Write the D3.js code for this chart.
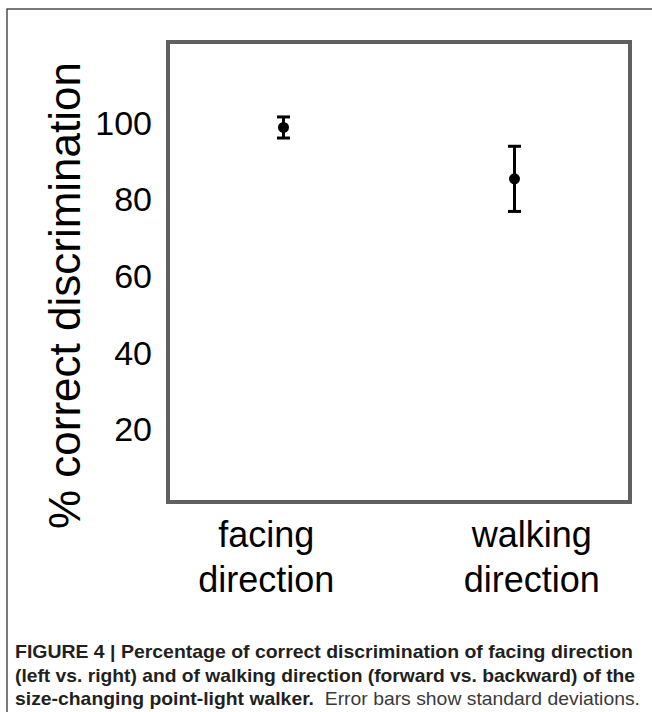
<!DOCTYPE html>
<html>
<head>
    <meta charset="utf-8">
    <script src="https://d3js.org/d3.v7.min.js"></script>
    <style>
        body { margin: 0; background: #fff; }
        text { font-family: 'Liberation Sans', Arial, Helvetica, sans-serif; }
        .caption { fill: #231f20; font-size: 18.5px; }
    </style>
</head>
<body>
<div id="chart"></div>
<script>

    // data
    var categories = ["facing direction", "walking direction"];
    var means = [98.7, 85.3];
    var sds = [2.75, 8.5];
    var yTicks = [20, 40, 60, 80, 100];
    var yTitle = "% correct discrimination";
    var captionLines = [
        [{t: "FIGURE 4 | Percentage of correct discrimination of facing direction", b: true}],
        [{t: "(left vs. right) and of walking direction (forward vs. backward) of the", b: true}],
        [{t: "size-changing point-light walker.", b: true},
         {t: "  Error bars show standard deviations.", b: false}]
    ];
    var captionWidths = [618, 620, 625];

    var width = 652, height = 712;
    var box = {left: 168, top: 42, right: 630, bottom: 502};

    var svg = d3.select("#chart").append("svg")
        .attr("width", width)
        .attr("height", height);

    // outer frame of the figure panel
    svg.append("rect")
        .attr("x", 7).attr("y", 9)
        .attr("width", 700).attr("height", 800)
        .attr("fill", "none")
        .attr("stroke", "#333")
        .attr("stroke-width", 1.3);

    var x = d3.scalePoint()
        .domain(categories)
        .range([box.left, box.right])
        .padding(0.5);

    // category labels sit a bit further out than the points
    var xLab = d3.scalePoint()
        .domain(categories)
        .range([box.left, box.right])
        .padding(0.37);

    var y = d3.scaleLinear()
        .domain([1, 121])
        .range([box.bottom, box.top]);

    var rows = categories.map(function(c, i) {
        return {cat: c, mean: means[i], sd: sds[i]};
    });

    // plot box
    svg.append("rect")
        .attr("x", box.left).attr("y", box.top)
        .attr("width", box.right - box.left)
        .attr("height", box.bottom - box.top)
        .attr("fill", "none")
        .attr("stroke", "#606060")
        .attr("stroke-width", 4);

    // y tick labels
    svg.append("g")
        .selectAll("text")
        .data(yTicks)
        .join("text")
        .attr("x", 152)
        .attr("y", function(d) { return y(d); })
        .attr("dy", "0.36em")
        .attr("text-anchor", "end")
        .attr("font-size", 34)
        .attr("fill", "#000")
        .text(function(d) { return d; });

    // y title
    svg.append("text")
        .attr("transform", "translate(80," + 62 + ") rotate(-90)")
        .attr("text-anchor", "end")
        .attr("font-size", 44)
        .attr("fill", "#000")
        .text(yTitle);

    // x category labels, two lines each
    var xl = svg.append("g")
        .selectAll("text")
        .data(categories)
        .join("text")
        .attr("text-anchor", "middle")
        .attr("font-size", 36)
        .attr("fill", "#000");
    xl.selectAll("tspan")
        .data(function(d) { return d.split(" ").map(function(w) { return {w: w, c: d}; }); })
        .join("tspan")
        .attr("x", function(d) { return xLab(d.c); })
        .attr("y", function(d, i) { return 547 + i * 45; })
        .text(function(d) { return d.w; });

    // error bars
    var eb = svg.append("g")
        .attr("stroke", "#000")
        .attr("stroke-width", 3);
    eb.selectAll("line.v")
        .data(rows)
        .join("line")
        .attr("class", "v")
        .attr("x1", function(d) { return x(d.cat); })
        .attr("x2", function(d) { return x(d.cat); })
        .attr("y1", function(d) { return y(d.mean + d.sd); })
        .attr("y2", function(d) { return y(d.mean - d.sd); });
    [1, -1].forEach(function(s) {
        eb.selectAll("line.cap" + (s > 0 ? "t" : "b"))
            .data(rows)
            .join("line")
            .attr("class", "cap" + (s > 0 ? "t" : "b"))
            .attr("x1", function(d) { return x(d.cat) - 6.5; })
            .attr("x2", function(d) { return x(d.cat) + 6.5; })
            .attr("y1", function(d) { return y(d.mean + s * d.sd); })
            .attr("y2", function(d) { return y(d.mean + s * d.sd); });
    });

    svg.append("g")
        .selectAll("circle")
        .data(rows)
        .join("circle")
        .attr("cx", function(d) { return x(d.cat); })
        .attr("cy", function(d) { return y(d.mean); })
        .attr("r", 5.5)
        .attr("fill", "#000");

    // caption
    var cap = svg.append("g").attr("class", "caption");
    captionLines.forEach(function(line, i) {
        var t = cap.append("text")
            .attr("x", 15)
            .attr("y", 658 + i * 23.5)
            .attr("textLength", captionWidths[i])
            .attr("lengthAdjust", "spacingAndGlyphs");
        t.selectAll("tspan")
            .data(line)
            .join("tspan")
            .attr("font-weight", function(d) { return d.b ? "bold" : "normal"; })
            .attr("fill", function(d) { return d.b ? "#231f20" : "#3a3a3a"; })
            .style("white-space", "pre")
            .text(function(d) { return d.t; });
    });

</script>
</body>
</html>
